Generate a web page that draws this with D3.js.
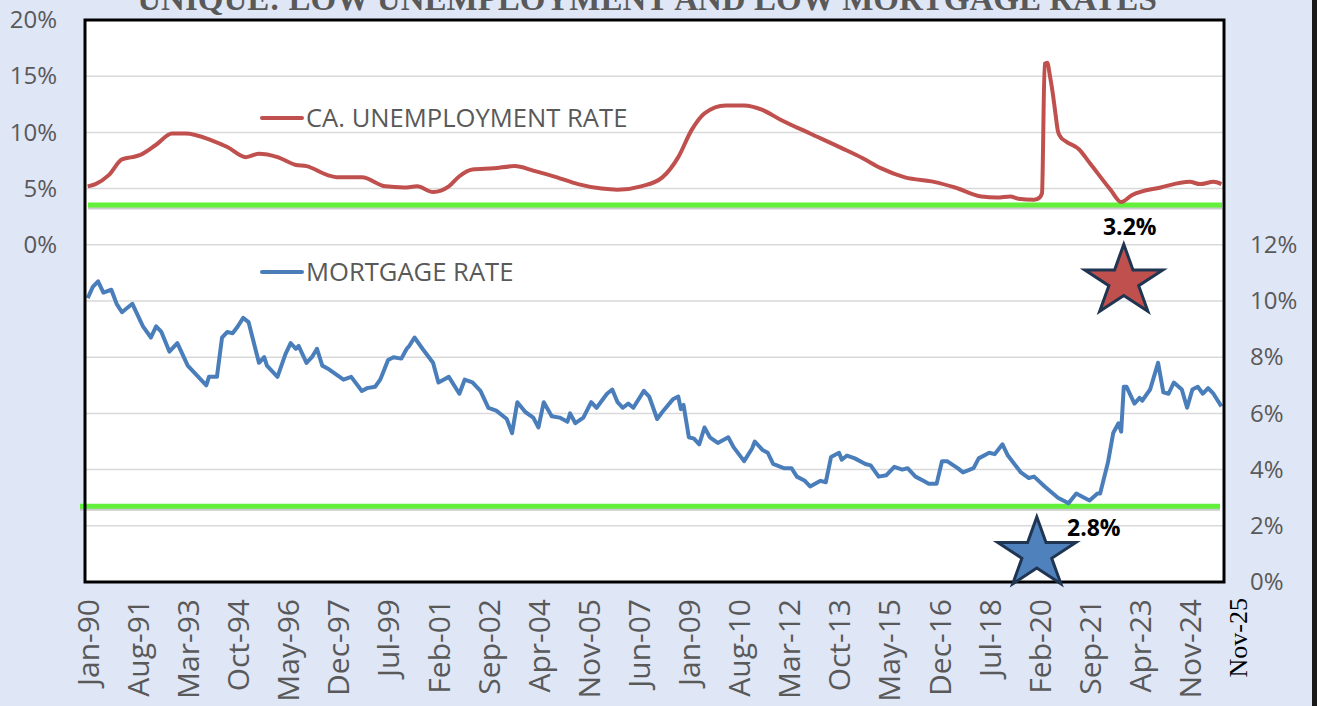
<!DOCTYPE html>
<html>
<head>
<meta charset="utf-8">
<script src="https://cdn.jsdelivr.net/npm/d3@7"></script>
<style>
  html, body { margin: 0; padding: 0; background: #dfe6f6; }
  svg { display: block; }
</style>
</head>
<body>
<div id="chart"></div>
<script>
// CA unemployment rate (left axis)
var unempDates = ["1990-01","1990-04","1990-09","1991-02","1991-06","1991-09","1992-03","1992-09","1993-02","1993-12",
  "1994-06","1995-01","1995-06","1996-01","1996-08","1996-12","1997-08","1997-12","1998-09","1999-06",
  "2000-01","2000-06","2000-12","2001-06","2001-10","2002-03","2002-11","2003-07","2004-02","2004-11",
  "2005-07","2006-04","2006-10","2007-07","2008-03","2008-09","2009-02","2009-07","2010-03","2010-10",
  "2011-05","2011-12","2012-11","2013-11","2014-07","2015-02","2015-11","2016-10","2017-06","2018-04",
  "2018-10","2019-03","2019-06","2019-12","2020-02","2020-03","2020-04","2020-05","2020-06","2020-07",
  "2020-08","2020-09","2020-10","2020-12","2021-05","2021-09","2022-05","2022-09","2023-01","2023-12",
  "2024-11","2025-03","2025-08","2025-11"];
var unempValues = [5.2,5.4,6.2,7.6,7.8,8.0,8.9,9.9,9.9,9.3,
  8.7,7.8,8.1,7.8,7.1,7.0,6.2,6.0,6.0,5.2,
  5.1,5.2,4.7,5.2,6.1,6.7,6.8,7.0,6.6,6.0,
  5.4,5.0,4.9,5.2,6.0,7.8,10.2,11.7,12.4,12.4,
  12.0,11.1,9.9,8.6,7.7,6.8,6.0,5.6,5.1,4.3,
  4.2,4.3,4.1,4.0,4.2,4.6,16.1,16.2,15.0,13.6,
  11.8,10.1,9.6,9.2,8.5,7.3,4.9,3.8,4.4,5.1,
  5.6,5.4,5.6,5.4];

// Mortgage rate (right axis)
var mortDates = ["1990-01","1990-03","1990-05","1990-07","1990-10","1990-12","1991-02","1991-04","1991-06","1991-10",
  "1992-01","1992-03","1992-05","1992-08","1992-11","1993-03","1993-10","1993-11","1994-02","1994-04",
  "1994-06","1994-08","1994-10","1994-12","1995-02","1995-06","1995-08","1995-09","1996-01","1996-04",
  "1996-06","1996-08","1996-09","1996-12","1997-02","1997-04","1997-06","1997-08","1998-02","1998-05",
  "1998-09","1998-11","1999-02","1999-04","1999-07","1999-09","1999-12","2000-02","2000-03","2000-05",
  "2000-08","2000-12","2001-02","2001-04","2001-06","2001-10","2001-12","2002-03","2002-06","2002-09",
  "2002-12","2003-04","2003-06","2003-08","2003-11","2004-02","2004-04","2004-06","2004-09","2004-12",
  "2005-03","2005-04","2005-06","2005-09","2005-12","2006-02","2006-06","2006-08","2006-10","2006-12",
  "2007-02","2007-04","2007-08","2007-10","2008-01","2008-03","2008-07","2008-09","2008-10","2008-11",
  "2009-01","2009-03","2009-05","2009-07","2009-09","2009-12","2010-04","2010-06","2010-10","2011-01",
  "2011-02","2011-05","2011-07","2011-09","2012-01","2012-04","2012-06","2012-09","2012-11","2013-03",
  "2013-05","2013-07","2013-10","2013-11","2014-01","2014-04","2014-08","2014-10","2015-01","2015-04",
  "2015-07","2015-10","2015-12","2016-03","2016-06","2016-08","2016-11","2017-01","2017-03","2017-07",
  "2017-09","2018-01","2018-03","2018-07","2018-09","2018-12","2019-02","2019-07","2019-10","2019-12",
  "2020-04","2020-09","2021-01","2021-04","2021-07","2021-09","2021-12","2022-01","2022-04","2022-06",
  "2022-08","2022-09","2022-10","2022-11","2023-02","2023-04","2023-05","2023-08","2023-11","2024-01",
  "2024-03","2024-05","2024-08","2024-10","2024-12","2025-02","2025-04","2025-06","2025-08","2025-11"];
var mortValues = [10.1,10.5,10.7,10.3,10.4,9.9,9.6,9.75,9.9,9.1,
  8.7,9.1,8.9,8.2,8.5,7.7,7.0,7.3,7.3,8.7,
  8.9,8.85,9.1,9.4,9.25,7.8,8.0,7.7,7.3,8.1,
  8.5,8.3,8.4,7.8,8.0,8.3,7.7,7.6,7.2,7.3,
  6.8,6.9,6.95,7.2,7.9,8.0,7.95,8.3,8.4,8.7,
  8.3,7.8,7.1,7.2,7.3,6.7,7.2,7.1,6.8,6.2,
  6.1,5.8,5.3,6.4,6.05,5.85,5.5,6.4,5.9,5.85,
  5.7,6.0,5.65,5.85,6.4,6.2,6.7,6.85,6.4,6.2,
  6.35,6.2,6.8,6.6,5.8,6.05,6.5,6.6,6.15,6.3,
  5.15,5.1,4.9,5.5,5.15,4.95,5.15,4.8,4.3,4.75,
  5.0,4.7,4.6,4.2,4.05,4.05,3.75,3.6,3.4,3.6,
  3.55,4.45,4.6,4.35,4.5,4.4,4.2,4.15,3.75,3.8,
  4.1,4.0,4.05,3.75,3.6,3.5,3.5,4.3,4.3,4.05,
  3.9,4.05,4.4,4.6,4.55,4.9,4.5,3.9,3.7,3.75,
  3.4,3.0,2.8,3.15,3.0,2.9,3.15,3.15,4.25,5.3,
  5.65,5.35,6.95,6.95,6.35,6.55,6.45,6.85,7.8,6.75,
  6.7,7.1,6.85,6.2,6.85,6.95,6.7,6.9,6.7,6.25];

var xTickLabels = ["Jan-90","Aug-91","Mar-93","Oct-94","May-96","Dec-97","Jul-99","Feb-01","Sep-02","Apr-04",
  "Nov-05","Jun-07","Jan-09","Aug-10","Mar-12","Oct-13","May-15","Dec-16","Jul-18","Feb-20",
  "Sep-21","Apr-23","Nov-24"];
var lastLabel = "Nov-25";
var leftTicks = [0, 5, 10, 15, 20];
var rightTicks = [0, 2, 4, 6, 8, 10, 12];
var gridValues = [2, 4, 6, 8, 10, 12, 14, 16, 18];   // right axis units

// floor lines and star notes
var unempFloor = 3.55, mortFloor = 2.7;
var unempNote = {date: "2022-10", value: 10.7, label: "3.2%"};   // value on right axis
var mortNote = {date: "2020-01", value: 1.0, label: "2.8%"};

var width = 1317, height = 706;
var plot = {left: 85, top: 20, right: 1224, bottom: 582};
var textGray = "#595959";
var sans = "'Open Sans', sans-serif";

var parseMonth = d3.timeParse("%Y-%m");
var parseLabel = d3.timeParse("%b-%y");

var unemp = unempDates.map((d, i) => ({date: parseMonth(d), value: unempValues[i]}));
var mort = mortDates.map((d, i) => ({date: parseMonth(d), value: mortValues[i]}));

var svg = d3.select("#chart")
    .append("svg")
    .attr("width", width)
    .attr("height", height);

svg.append("rect")
    .attr("width", width)
    .attr("height", height)
    .attr("fill", "#dfe6f6");

// right edge frame
svg.append("rect")
    .attr("x", 1312).attr("y", 0)
    .attr("width", 5).attr("height", height)
    .attr("fill", "#1a1a1a");

var x = d3.scaleTime()
    .domain([new Date(1989, 11, 1), new Date(2025, 11, 1)])
    .range([plot.left, plot.right]);

var yLeft = d3.scaleLinear()
    .domain([-30, 20])
    .range([plot.bottom, plot.top]);

var yRight = d3.scaleLinear()
    .domain([0, 20])
    .range([plot.bottom, plot.top]);

// plot background
svg.append("rect")
    .attr("x", plot.left).attr("y", plot.top)
    .attr("width", plot.right - plot.left)
    .attr("height", plot.bottom - plot.top)
    .attr("fill", "#ffffff");

// gridlines
svg.append("g")
    .selectAll("line")
    .data(gridValues)
    .enter()
    .append("line")
    .attr("x1", plot.left)
    .attr("x2", plot.right)
    .attr("y1", d => yRight(d))
    .attr("y2", d => yRight(d))
    .attr("stroke", "#d9d9d9")
    .attr("stroke-width", 1.5);

// Title (cut off at the top like the original)
svg.append("text")
    .attr("x", 647)
    .attr("y", 10)
    .attr("text-anchor", "middle")
    .style("font-family", "'Liberation Serif', 'Times New Roman', serif")
    .style("font-weight", "bold")
    .style("font-size", "33px")
    .attr("fill", textGray)
    .text("UNIQUE: LOW UNEMPLOYMENT AND LOW MORTGAGE RATES");

// floor lines with a soft shadow
function floorLine(yPos, x1, x2) {
    svg.append("line")
        .attr("x1", x1).attr("x2", x2)
        .attr("y1", yPos + 2.5).attr("y2", yPos + 2.5)
        .attr("stroke", "#9a9a9a")
        .attr("stroke-opacity", 0.5)
        .attr("stroke-width", 4);
    svg.append("line")
        .attr("x1", x1).attr("x2", x2)
        .attr("y1", yPos).attr("y2", yPos)
        .attr("stroke", "#62f03a")
        .attr("stroke-width", 5);
}
floorLine(yLeft(unempFloor), 88, 1222);
floorLine(yRight(mortFloor), 80, 1220);

// series lines
var unempLine = d3.line()
    .x(d => x(d.date))
    .y(d => yLeft(d.value))
    .curve(d3.curveMonotoneX);

var mortLine = d3.line()
    .x(d => x(d.date))
    .y(d => yRight(d.value));

svg.append("path")
    .datum(unemp)
    .attr("d", unempLine)
    .attr("fill", "none")
    .attr("stroke", "#c0504d")
    .attr("stroke-width", 4)
    .attr("stroke-linejoin", "round");

svg.append("path")
    .datum(mort)
    .attr("d", mortLine)
    .attr("fill", "none")
    .attr("stroke", "#4a7ebb")
    .attr("stroke-width", 4)
    .attr("stroke-linejoin", "round");

// plot border
svg.append("rect")
    .attr("x", plot.left).attr("y", plot.top)
    .attr("width", plot.right - plot.left)
    .attr("height", plot.bottom - plot.top)
    .attr("fill", "none")
    .attr("stroke", "#000")
    .attr("stroke-width", 3);

// Left axis
var leftAxis = svg.append("g")
    .attr("transform", "translate(" + plot.left + ",0)")
    .call(d3.axisLeft(yLeft).tickValues(leftTicks).tickSize(0).tickPadding(28).tickFormat(d => d + "%"));
leftAxis.select(".domain").remove();
leftAxis.selectAll("text")
    .style("font-family", sans)
    .style("font-size", "24px")
    .attr("fill", textGray);

// Right axis
var rightAxis = svg.append("g")
    .attr("transform", "translate(" + plot.right + ",0)")
    .call(d3.axisRight(yRight).tickValues(rightTicks).tickSize(0).tickPadding(26).tickFormat(d => d + "%"));
rightAxis.select(".domain").remove();
rightAxis.selectAll("text")
    .style("font-family", sans)
    .style("font-size", "24px")
    .attr("fill", textGray);

// Bottom axis, rotated labels
var bottomAxis = svg.append("g")
    .attr("transform", "translate(0," + plot.bottom + ")")
    .call(d3.axisBottom(x).tickValues(xTickLabels.map(parseLabel)).tickSize(0).tickFormat(d3.timeFormat("%b-%y")));
bottomAxis.select(".domain").remove();
bottomAxis.selectAll("text")
    .attr("transform", "rotate(-90)")
    .attr("text-anchor", "end")
    .attr("x", -17)
    .attr("y", 0)
    .attr("dy", "0.36em")
    .style("font-family", sans)
    .style("font-size", "30px")
    .attr("fill", textGray);

// the hand-added last label
svg.append("text")
    .attr("transform", "translate(" + (x(parseLabel(lastLabel)) + 16) + "," + (plot.bottom + 16) + ") rotate(-90)")
    .attr("text-anchor", "end")
    .attr("dy", "0.36em")
    .style("font-family", "'Liberation Serif', 'Times New Roman', serif")
    .style("font-size", "26px")
    .attr("fill", "#000")
    .text(lastLabel);

// Legends
var legends = [
    {label: "CA. UNEMPLOYMENT RATE", color: "#c0504d", y: 118},
    {label: "MORTGAGE RATE", color: "#4a7ebb", y: 272}
];
legends.forEach(function(l) {
    svg.append("line")
        .attr("x1", 262).attr("x2", 302)
        .attr("y1", l.y).attr("y2", l.y)
        .attr("stroke", l.color)
        .attr("stroke-width", 4)
        .attr("stroke-linecap", "round");
    svg.append("text")
        .attr("x", 306)
        .attr("y", l.y + 9)
        .style("font-family", sans)
        .style("font-size", "25.6px")
        .attr("fill", textGray)
        .text(l.label);
});

// Stars
function starPath(rx, ry) {
    var pts = [];
    for (var i = 0; i < 10; i++) {
        var a = -Math.PI / 2 + i * Math.PI / 5;
        var r = i % 2 === 0 ? 1 : 0.382;
        pts.push([Math.cos(a) * r * rx, Math.sin(a) * r * ry]);
    }
    return "M" + pts.map(p => p.join(",")).join("L") + "Z";
}

var notes = [
    {note: unempNote, fill: "#c0504d", tx: 6, ty: -46},
    {note: mortNote, fill: "#4f81bd", tx: 57, ty: -18}
];
notes.forEach(function(n) {
    var cx = x(parseMonth(n.note.date));
    var cy = yRight(n.note.value);
    svg.append("path")
        .attr("transform", "translate(" + cx + "," + cy + ")")
        .attr("d", starPath(41, 37))
        .attr("fill", n.fill)
        .attr("stroke", "#1f3552")
        .attr("stroke-width", 3)
        .attr("stroke-linejoin", "miter");
    svg.append("text")
        .attr("x", cx + n.tx)
        .attr("y", cy + n.ty)
        .attr("text-anchor", "middle")
        .style("font-family", sans)
        .style("font-weight", "bold")
        .style("font-size", "23px")
        .attr("fill", "#000")
        .text(n.note.label);
});
</script>
</body>
</html>
